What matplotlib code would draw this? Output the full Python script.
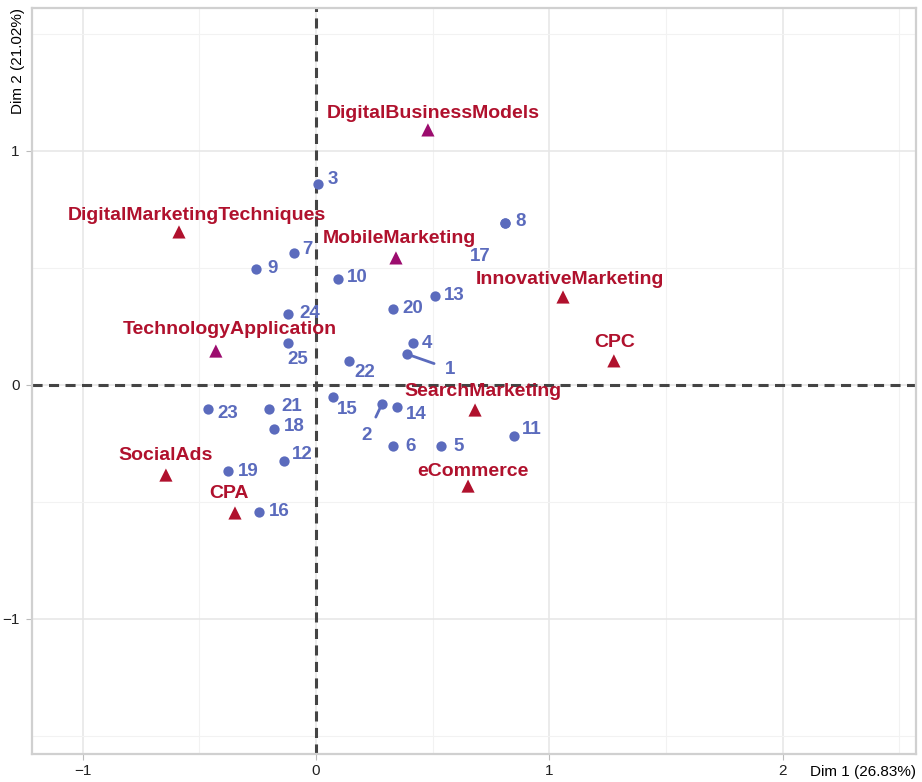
import numpy as np
import matplotlib
matplotlib.use("Agg")
import matplotlib.pyplot as plt
from matplotlib.ticker import MultipleLocator

plt.rcParams['font.family'] = ['Liberation Sans', 'DejaVu Sans']

# individuals (respondents)
ind_ids = [str(i) for i in range(1, 26)]
ind_x = [0.390, 0.283, 0.009, 0.416, 0.536, 0.330, -0.094, 0.810, -0.257, 0.094,
         0.849, -0.137, 0.510, 0.347, 0.073, -0.244, 0.810, -0.180, -0.377, 0.330,
         -0.201, 0.141, -0.463, -0.120, -0.120]
ind_y = [0.132, -0.081, 0.859, 0.179, -0.261, -0.261, 0.564, 0.692, 0.496, 0.453,
         -0.218, -0.325, 0.380, -0.094, -0.051, -0.543, 0.692, -0.188, -0.368, 0.325,
         -0.103, 0.103, -0.103, 0.303, 0.179]

# variables (categories)
var_names = ['DigitalBusinessModels', 'DigitalMarketingTechniques', 'MobileMarketing',
             'InnovativeMarketing', 'CPC', 'TechnologyApplication', 'SearchMarketing',
             'eCommerce', 'SocialAds', 'CPA']
var_x = [0.480, -0.587, 0.343, 1.059, 1.277, -0.429, 0.682, 0.652, -0.643, -0.347]
var_y = [1.090, 0.654, 0.543, 0.376, 0.103, 0.145, -0.107, -0.432, -0.385, -0.547]
var_group = ['b', 'a', 'b', 'a', 'a', 'b', 'a', 'a', 'a', 'a']

BLUE = '#5B6BBD'
RED = '#B0112D'
PURPLE = '#9C0C6E'
px2pt = 0.72

# label offsets in pixels (dx, dy, ha)
ind_off = {
    '1': (43, -15, 'center'), '2': (-15, -32, 'center'), '3': (10, 4, 'left'),
    '4': (9, 0, 'left'), '5': (12, 0, 'left'), '6': (12, 0, 'left'),
    '7': (8, 4, 'left'), '8': (10, 2, 'left'), '9': (11, 0, 'left'),
    '10': (9, 1, 'left'), '11': (8, 6, 'left'), '12': (8, 7, 'left'),
    '13': (9, 1, 'left'), '14': (9, -8, 'left'), '15': (4, -13, 'left'),
    '16': (10, 1, 'left'), '17': (-25, -33, 'center'), '18': (10, 2, 'left'),
    '19': (10, 0, 'left'), '20': (9, 0, 'left'), '21': (12, 3, 'left'),
    '22': (6, -12, 'left'), '23': (9, -4, 'left'), '24': (11, 1, 'left'),
    '25': (-1, -16, 'left'),
}
var_off = {
    'DigitalBusinessModels': (5, 16), 'DigitalMarketingTechniques': (18, 16),
    'MobileMarketing': (3, 19), 'InnovativeMarketing': (7, 17), 'CPC': (1, 18),
    'TechnologyApplication': (14, 22), 'SearchMarketing': (8, 19),
    'eCommerce': (5, 15), 'SocialAds': (0, 20), 'CPA': (-6, 19),
}

fig = plt.figure(figsize=(9.22, 7.82), dpi=100)
ax = fig.add_axes([32 / 922, 28 / 782, 884 / 922, 746 / 782])

ax.set_xlim(-1.217, 2.572)
ax.set_ylim(-1.577, 1.611)
ax.xaxis.set_minor_locator(MultipleLocator(0.5))
ax.yaxis.set_minor_locator(MultipleLocator(0.5))
ax.grid(which='major', color='#E6E6E6', linewidth=1.1, zorder=0)
ax.grid(which='minor', color='#F2F2F2', linewidth=0.8, zorder=0)
ax.set_axisbelow(True)
for s in ax.spines.values():
    s.set_color('#D0D0D0')
    s.set_linewidth(1.6)
ax.tick_params(which='major', length=4, color='#BBBBBB', labelsize=11, labelcolor='#222222')
ax.tick_params(which='minor', length=0)
ax.tick_params(axis='y', pad=5)
ax.set_xticks([-1, 0, 1, 2])
ax.set_xticklabels(['\u22121', '0', '1', '2'])
ax.set_yticks([-1, 0, 1])
ax.set_yticklabels(['\u22121', '0', '1'])

ax.axhline(0, color='#444444', linestyle=(0, (3.3, 2.1)), linewidth=2.2, zorder=1)
ax.axvline(0, color='#444444', linestyle=(0, (3.3, 2.1)), linewidth=2.2, zorder=1)

ax.scatter(ind_x, ind_y, s=55, color=BLUE, zorder=3, linewidths=0)
for name, x, y in zip(ind_ids, ind_x, ind_y):
    dx, dy, ha = ind_off[name]
    arrow = None
    if name in ('1', '2'):
        arrow = dict(arrowstyle='-', color=BLUE, lw=2, shrinkA=6, shrinkB=1)
    ax.annotate(name, (x, y), xytext=(dx * px2pt, dy * px2pt), textcoords='offset points',
                ha=ha, va='center', fontsize=13.5, fontweight='bold', color=BLUE,
                arrowprops=arrow, zorder=4)

cols = [PURPLE if g == 'b' else RED for g in var_group]
ax.scatter(var_x, var_y, s=90, marker='^', color=cols, zorder=3, linewidths=0)
for name, x, y in zip(var_names, var_x, var_y):
    dx, dy = var_off[name]
    ax.annotate(name, (x, y), xytext=(dx * px2pt, dy * px2pt), textcoords='offset points',
                ha='center', va='center', fontsize=14, fontweight='bold', color=RED, zorder=4)

fig.text(916 / 922, 1 - 772 / 782, 'Dim 1 (26.83%)', ha='right', va='center', fontsize=11)
fig.text(18 / 922, 1 - 8 / 782, 'Dim 2 (21.02%)', ha='center', va='top', fontsize=11, rotation=90)

fig.savefig('out.png', dpi=100)
